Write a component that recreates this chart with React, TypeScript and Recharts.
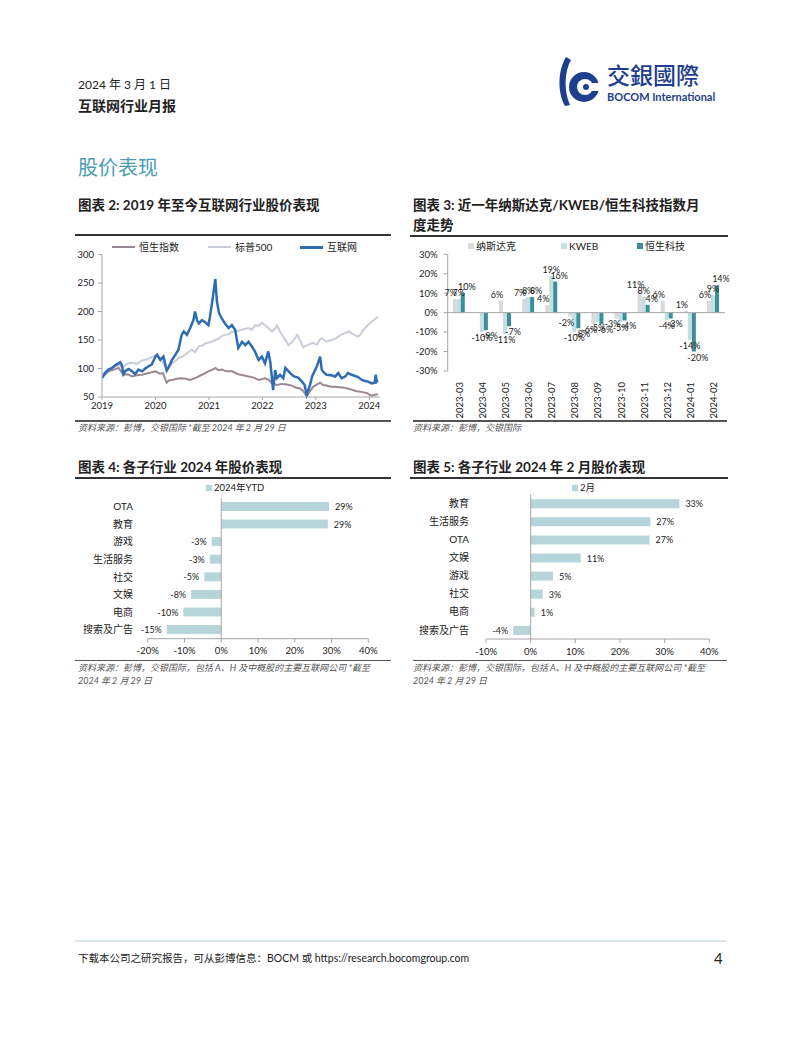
import React from "react";
import {
  LineChart,
  Line,
  BarChart,
  Bar,
  XAxis,
  YAxis,
  ReferenceLine,
  LabelList,
} from "recharts";

const FONT = 'Lato, "Noto Sans CJK SC", sans-serif';
const INK = "#222";
const AXIS = "#a6a6a6";

// 图表 2: index levels, [year, value]
const yearTicks = [2019, 2020, 2021, 2022, 2023, 2024];
const levelTicks = [50, 100, 150, 200, 250, 300];

const hsiPoints = [
  [2019.0, 86], [2019.06, 90], [2019.12, 95], [2019.22, 98], [2019.31, 101], [2019.4, 89],
  [2019.48, 90], [2019.56, 86], [2019.65, 88], [2019.75, 89], [2019.87, 92], [2020.0, 95],
  [2020.08, 91], [2020.14, 92], [2020.21, 75], [2020.25, 79], [2020.31, 80], [2020.4, 82],
  [2020.49, 83], [2020.57, 82], [2020.65, 80], [2020.76, 84], [2020.87, 89], [2020.99, 95],
  [2021.07, 98], [2021.12, 101], [2021.18, 97], [2021.24, 98], [2021.33, 95], [2021.43, 95],
  [2021.55, 90], [2021.64, 88], [2021.74, 86], [2021.84, 84], [2021.93, 80], [2022.05, 83],
  [2022.12, 80], [2022.18, 74], [2022.27, 71], [2022.36, 73], [2022.46, 72], [2022.55, 70],
  [2022.61, 67], [2022.7, 65], [2022.76, 61], [2022.83, 51], [2022.89, 60], [2022.95, 68],
  [2023.04, 73], [2023.08, 75], [2023.14, 71], [2023.2, 70], [2023.28, 68], [2023.35, 68],
  [2023.45, 67], [2023.55, 66], [2023.62, 64], [2023.67, 63], [2023.76, 60], [2023.85, 59],
  [2023.95, 57], [2024.04, 52], [2024.1, 54], [2024.16, 55],
];

const spxPoints = [
  [2019.0, 89], [2019.06, 94], [2019.12, 98], [2019.22, 102], [2019.31, 106], [2019.4, 103],
  [2019.48, 109], [2019.56, 110], [2019.65, 108], [2019.75, 114], [2019.84, 116], [2019.93, 120],
  [2020.03, 124], [2020.12, 116], [2020.17, 105], [2020.21, 95], [2020.26, 103], [2020.31, 109],
  [2020.37, 113], [2020.43, 118], [2020.5, 121], [2020.55, 124], [2020.62, 129], [2020.68, 133],
  [2020.74, 129], [2020.81, 139], [2020.87, 140], [2020.93, 144], [2021.05, 147], [2021.12, 150],
  [2021.19, 153], [2021.24, 157], [2021.3, 159], [2021.37, 160], [2021.43, 165], [2021.49, 164],
  [2021.55, 166], [2021.64, 169], [2021.74, 171], [2021.8, 168], [2021.87, 176], [2021.93, 175],
  [2021.99, 180], [2022.05, 176], [2022.11, 171], [2022.18, 165], [2022.24, 170], [2022.27, 176],
  [2022.33, 165], [2022.37, 159], [2022.43, 150], [2022.49, 141], [2022.55, 146], [2022.61, 153],
  [2022.65, 159], [2022.71, 148], [2022.77, 137], [2022.81, 140], [2022.85, 141], [2022.93, 145],
  [2023.02, 142], [2023.07, 150], [2023.11, 153], [2023.2, 147], [2023.29, 150], [2023.36, 152],
  [2023.42, 156], [2023.48, 160], [2023.54, 162], [2023.62, 165], [2023.7, 160], [2023.79, 156],
  [2023.84, 160], [2023.88, 167], [2023.96, 175], [2024.04, 182], [2024.1, 186], [2024.16, 191],
];

const internetPoints = [
  [2019.0, 83], [2019.06, 92], [2019.12, 98], [2019.19, 101], [2019.25, 106], [2019.31, 109],
  [2019.34, 111], [2019.37, 106], [2019.4, 90], [2019.44, 96], [2019.5, 99], [2019.56, 95],
  [2019.62, 90], [2019.68, 98], [2019.75, 95], [2019.81, 100], [2019.87, 104], [2019.93, 107],
  [2020.0, 121], [2020.03, 124], [2020.09, 115], [2020.15, 121], [2020.21, 97], [2020.25, 103],
  [2020.31, 115], [2020.37, 124], [2020.43, 133], [2020.49, 159], [2020.53, 165], [2020.59, 159],
  [2020.65, 171], [2020.71, 185], [2020.74, 200], [2020.78, 184], [2020.81, 179], [2020.87, 185],
  [2020.93, 181], [2020.99, 176], [2021.02, 191], [2021.07, 223], [2021.12, 257], [2021.15, 217],
  [2021.19, 197], [2021.24, 188], [2021.3, 179], [2021.37, 171], [2021.43, 176], [2021.49, 168],
  [2021.55, 136], [2021.62, 147], [2021.68, 141], [2021.74, 147], [2021.8, 139], [2021.86, 130],
  [2021.93, 115], [2021.99, 121], [2022.05, 109], [2022.11, 130], [2022.15, 110], [2022.2, 62],
  [2022.24, 97], [2022.27, 83], [2022.33, 89], [2022.39, 83], [2022.43, 101], [2022.52, 92],
  [2022.59, 86], [2022.67, 84], [2022.74, 77], [2022.79, 71], [2022.83, 54], [2022.89, 71],
  [2022.93, 86], [2023.02, 104], [2023.08, 121], [2023.11, 98], [2023.14, 94], [2023.2, 89],
  [2023.29, 88], [2023.36, 86], [2023.42, 92], [2023.48, 83], [2023.55, 86], [2023.6, 92],
  [2023.67, 89], [2023.79, 85], [2023.86, 80], [2023.92, 78], [2023.98, 77], [2024.04, 74],
  [2024.1, 75], [2024.12, 89], [2024.14, 77], [2024.16, 79],
];

// 图表 3: monthly returns (%)
const months = [
  "2023-03", "2023-04", "2023-05", "2023-06", "2023-07", "2023-08",
  "2023-09", "2023-10", "2023-11", "2023-12", "2024-01", "2024-02",
];
const nasdaqReturns = [7, 0, 6, 7, 4, -2, -6, -3, 11, 6, 1, 6];
const kwebReturns = [7, -10, -11, 8, 19, -10, -5, -5, 8, -4, -14, 9];
const hstechReturns = [10, -9, -7, 8, 16, -8, -6, -4, 4, -3, -20, 14];
const returnTicks = [-30, -20, -10, 0, 10, 20, 30];

// 图表 4: 2024 YTD by sub-sector (%)
const ytdSectors = ["OTA", "教育", "游戏", "生活服务", "社交", "文娱", "电商", "搜索及广告"];
const ytdValues = [29.3, 29.0, -2.6, -3.1, -4.6, -8.2, -10.3, -14.8];
const ytdTicks = [-20, -10, 0, 10, 20, 30, 40];

// 图表 5: February 2024 by sub-sector (%)
const febSectors = ["教育", "生活服务", "OTA", "文娱", "游戏", "社交", "电商", "搜索及广告"];
const febValues = [33.3, 26.8, 26.6, 11.2, 5.0, 2.7, 0.9, -3.9];
const febTicks = [-10, 0, 10, 20, 30, 40];

const HSI_C = "#9c8794";
const SPX_C = "#c9cdd7";
const NET_C = "#2e6db4";
const NASDAQ_C = "#d9d9d9";
const KWEB_C = "#c3dfe6";
const HSTECH_C = "#3c8f99";
const SECTOR_C = "#b5d5db";

const toRows = (pts: number[][]) => pts.map(([t, v]) => ({ t, v }));
const pct = (v: number) => `${v}%`;

const monthRows = months.map((m, i) => ({
  m,
  nasdaq: nasdaqReturns[i],
  kweb: kwebReturns[i],
  hstech: hstechReturns[i],
}));
const ytdRows = ytdSectors.map((name, i) => ({ name, v: ytdValues[i] }));
const febRows = febSectors.map((name, i) => ({ name, v: febValues[i] }));

// column label, nudged sideways a little per series like the Excel original
function columnLabel(shift: number) {
  return function ColumnLabel(props: any) {
    const { x, y, width, height, value } = props;
    const top = Math.min(y, y + height);
    const bottom = Math.max(y, y + height);
    const cx = x + width / 2 + shift;
    return (
      <text
        x={cx}
        y={value >= 0 ? top - 3 : bottom + 9}
        textAnchor="middle"
        fontSize={9}
        fill={INK}
        fontFamily={FONT}
      >
        {`${value}%`}
      </text>
    );
  };
}
const NasdaqLabel = columnLabel(-4);
const KwebLabel = columnLabel(0);
const HstechLabel = columnLabel(4);

function RowLabel(props: any) {
  const { x, y, width, height, value } = props;
  const left = Math.min(x, x + width);
  const right = Math.max(x, x + width);
  const pos = value >= 0;
  return (
    <text
      x={pos ? right + 6 : left - 5}
      y={y + height / 2}
      dominantBaseline="central"
      textAnchor={pos ? "start" : "end"}
      fontSize={9}
      fill={INK}
      fontFamily={FONT}
    >
      {`${Math.round(value)}%`}
    </text>
  );
}

function MonthTick(props: any) {
  const { x, y, payload } = props;
  const py = y + 3;
  return (
    <text
      x={x}
      y={py}
      transform={`rotate(-90 ${x} ${py})`}
      textAnchor="end"
      dominantBaseline="central"
      fontSize={9.5}
      fill={INK}
      fontFamily={FONT}
    >
      {payload.value}
    </text>
  );
}

function Txt({ x, y, size, children, style }: any) {
  return (
    <div
      style={{
        position: "absolute",
        left: x,
        top: y - 10,
        height: 20,
        lineHeight: "20px",
        fontSize: size,
        whiteSpace: "nowrap",
        color: INK,
        ...style,
      }}
    >
      {children}
    </div>
  );
}

function Rule({ x, y, w, h, color }: any) {
  return (
    <div
      style={{ position: "absolute", left: x, top: y, width: w, height: h, background: color }}
    />
  );
}

function LineKey({ x, y, color, label, width }: any) {
  return (
    <>
      <Rule x={x} y={y - 1} w={23} h={width} color={color} />
      <Txt x={x + 27} y={y} size={10}>{label}</Txt>
    </>
  );
}

function BoxKey({ x, y, color, label, size = 10 }: any) {
  return (
    <>
      <Rule x={x} y={y - 3} w={6} h={6} color={color} />
      <Txt x={x + 8} y={y} size={size}>{label}</Txt>
    </>
  );
}

function Logo() {
  return (
    <svg
      width={170}
      height={56}
      style={{ position: "absolute", left: 556, top: 54 }}
    >
      <path d="M10,3 C2,16 1,38 9,52 L14,51 C8,38 8,18 15,6 Z" fill="#1d3f8e" />
      <circle cx={28} cy={33} r={15} fill="#1d3f8e" />
      <circle cx={29} cy={33} r={8} fill="#fff" />
      <rect x={29} y={29} width={16} height={8} fill="#fff" />
      <circle cx={30} cy={33} r={3} fill="#1d3f8e" />
      <text x={51} y={30} fontSize={23} fill="#1d3f8e" fontFamily={FONT} fontWeight={500}>
        交銀國際
      </text>
      <text x={51} y={47} fontSize={11} fill="#1d3f8e" fontFamily={FONT} fontWeight={700}>
        BOCOM International
      </text>
    </svg>
  );
}

const titleStyle = { fontWeight: 700 };
const sourceStyle = { fontStyle: "italic", color: "#555" };

export default function App() {
  return (
    <div
      style={{
        position: "absolute",
        left: 0,
        top: 0,
        width: 802,
        height: 1037,
        background: "#fff",
        fontFamily: FONT,
        color: INK,
        overflow: "hidden",
      }}
    >
      {/* header */}
      <Txt x={78} y={85} size={12}>2024 年 3 月 1 日</Txt>
      <Txt x={78} y={106} size={14} style={titleStyle}>互联网行业月报</Txt>
      <Logo />
      <Txt x={78} y={167} size={20} style={{ color: "#4a9cb2" }}>股价表现</Txt>

      {/* chart 2 */}
      <Txt x={78} y={205} size={13.5} style={titleStyle}>
        图表 2: 2019 年至今互联网行业股价表现
      </Txt>
      <Rule x={75} y={234} w={316} h={2} color="#333" />
      <LineKey x={112} y={247} color={HSI_C} label="恒生指数" width={2} />
      <LineKey x={208} y={247} color={SPX_C} label="标普500" width={2} />
      <LineKey x={300} y={247} color={NET_C} label="互联网" width={3} />
      <div style={{ position: "absolute", left: 60, top: 250 }}>
        <LineChart
          width={330}
          height={170}
          margin={{ top: 4.5, right: 10, bottom: 3, left: 0 }}
        >
          <XAxis
            type="number"
            dataKey="t"
            domain={[2019, 2024.2]}
            ticks={yearTicks}
            allowDataOverflow
            height={20}
            tickSize={3}
            tickMargin={2}
            axisLine={{ stroke: AXIS }}
            tickLine={{ stroke: AXIS }}
            tick={{ fontSize: 9.5, fill: INK, fontFamily: FONT }}
          />
          <YAxis
            type="number"
            domain={[50, 300]}
            ticks={levelTicks}
            width={42}
            tickSize={4}
            tickMargin={4}
            axisLine={{ stroke: AXIS }}
            tickLine={{ stroke: AXIS }}
            tick={{ fontSize: 9.5, fill: INK, fontFamily: FONT }}
          />
          <Line
            data={toRows(hsiPoints)}
            dataKey="v"
            stroke={HSI_C}
            strokeWidth={2}
            dot={false}
            isAnimationActive={false}
          />
          <Line
            data={toRows(spxPoints)}
            dataKey="v"
            stroke={SPX_C}
            strokeWidth={2}
            dot={false}
            isAnimationActive={false}
          />
          <Line
            data={toRows(internetPoints)}
            dataKey="v"
            stroke={NET_C}
            strokeWidth={2.5}
            dot={false}
            isAnimationActive={false}
          />
        </LineChart>
      </div>
      <Rule x={75} y={420} w={316} h={1.5} color="#555" />
      <Txt x={78} y={428} size={9} style={sourceStyle}>
        资料来源：彭博，交银国际 *截至 2024 年 2 月 29 日
      </Txt>

      {/* chart 3 */}
      <Txt x={413} y={205} size={13.5} style={titleStyle}>
        图表 3: 近一年纳斯达克/KWEB/恒生科技指数月
      </Txt>
      <Txt x={413} y={225} size={13.5} style={titleStyle}>度走势</Txt>
      <Rule x={410} y={235} w={318} h={2} color="#333" />
      <BoxKey x={468} y={246} color={NASDAQ_C} label="纳斯达克" />
      <BoxKey x={561} y={246} color={KWEB_C} label="KWEB" />
      <BoxKey x={637} y={246} color={HSTECH_C} label="恒生科技" />
      <div style={{ position: "absolute", left: 400, top: 250 }}>
        <BarChart
          width={335}
          height={180}
          data={monthRows}
          margin={{ top: 4.3, right: 10, bottom: 4, left: 0 }}
          barCategoryGap="22%"
          barGap={0}
        >
          <XAxis
            dataKey="m"
            height={55}
            interval={0}
            axisLine={false}
            tickLine={false}
            tickSize={6}
            tickMargin={2}
            tick={<MonthTick />}
          />
          <YAxis
            domain={[-30, 30]}
            ticks={returnTicks}
            tickFormatter={pct}
            width={47.7}
            tickSize={4}
            tickMargin={6}
            axisLine={{ stroke: AXIS }}
            tickLine={{ stroke: AXIS }}
            tick={{ fontSize: 9.5, fill: INK, fontFamily: FONT }}
          />
          <ReferenceLine y={0} stroke={AXIS} />
          <Bar dataKey="nasdaq" fill={NASDAQ_C} isAnimationActive={false}>
            <LabelList dataKey="nasdaq" content={<NasdaqLabel />} />
          </Bar>
          <Bar dataKey="kweb" fill={KWEB_C} isAnimationActive={false}>
            <LabelList dataKey="kweb" content={<KwebLabel />} />
          </Bar>
          <Bar dataKey="hstech" fill={HSTECH_C} isAnimationActive={false}>
            <LabelList dataKey="hstech" content={<HstechLabel />} />
          </Bar>
        </BarChart>
      </div>
      <Rule x={413} y={420} w={314} h={1.5} color="#555" />
      <Txt x={413} y={428} size={9} style={sourceStyle}>资料来源：彭博，交银国际</Txt>

      {/* chart 4 */}
      <Txt x={78} y={467} size={13.5} style={titleStyle}>
        图表 4: 各子行业 2024 年股价表现
      </Txt>
      <Rule x={75} y={477} w={316} h={2} color="#333" />
      <BoxKey x={206} y={488} color={SECTOR_C} label="2024年YTD" size={9.5} />
      <div style={{ position: "absolute", left: 70, top: 490 }}>
        <BarChart
          layout="vertical"
          width={320}
          height={170}
          data={ytdRows}
          margin={{ top: 7.9, right: 21.7, bottom: 1.3, left: 0 }}
          barSize={9}
        >
          <XAxis
            type="number"
            domain={[-20, 40]}
            ticks={ytdTicks}
            tickFormatter={pct}
            height={20}
            tickSize={4}
            tickMargin={5}
            axisLine={{ stroke: AXIS }}
            tickLine={{ stroke: AXIS }}
            tick={{ fontSize: 9.5, fill: INK, fontFamily: FONT }}
          />
          <YAxis
            type="category"
            dataKey="name"
            width={77.7}
            interval={0}
            axisLine={false}
            tickLine={false}
            tickSize={0}
            tickMargin={14.7}
            tick={{ fontSize: 10, fill: INK, fontFamily: FONT }}
          />
          <ReferenceLine x={0} stroke={AXIS} />
          <Bar dataKey="v" fill={SECTOR_C} isAnimationActive={false}>
            <LabelList dataKey="v" content={<RowLabel />} />
          </Bar>
        </BarChart>
      </div>
      <Rule x={75} y={660} w={316} h={1} color="#555" />
      <Txt x={78} y={668} size={9} style={sourceStyle}>
        资料来源：彭博，交银国际，包括 A、H 及中概股的主要互联网公司 *截至
      </Txt>
      <Txt x={78} y={681} size={9} style={sourceStyle}>2024 年 2 月 29 日</Txt>

      {/* chart 5 */}
      <Txt x={413} y={467} size={13.5} style={titleStyle}>
        图表 5: 各子行业 2024 年 2 月股价表现
      </Txt>
      <Rule x={410} y={477} w={318} h={2} color="#333" />
      <BoxKey x={572} y={488} color={SECTOR_C} label="2月" size={9.5} />
      <div style={{ position: "absolute", left: 400, top: 490 }}>
        <BarChart
          layout="vertical"
          width={330}
          height={170}
          data={febRows}
          margin={{ top: 4.25, right: 20.7, bottom: 1, left: 0 }}
          barSize={9}
        >
          <XAxis
            type="number"
            domain={[-10, 40]}
            ticks={febTicks}
            tickFormatter={pct}
            height={20}
            tickSize={4}
            tickMargin={5}
            axisLine={{ stroke: AXIS }}
            tickLine={{ stroke: AXIS }}
            tick={{ fontSize: 9.5, fill: INK, fontFamily: FONT }}
          />
          <YAxis
            type="category"
            dataKey="name"
            width={86}
            interval={0}
            axisLine={false}
            tickLine={false}
            tickSize={0}
            tickMargin={17}
            tick={{ fontSize: 10, fill: INK, fontFamily: FONT }}
          />
          <ReferenceLine x={0} stroke={AXIS} />
          <Bar dataKey="v" fill={SECTOR_C} isAnimationActive={false}>
            <LabelList dataKey="v" content={<RowLabel />} />
          </Bar>
        </BarChart>
      </div>
      <Rule x={413} y={660} w={314} h={1} color="#555" />
      <Txt x={413} y={668} size={9} style={sourceStyle}>
        资料来源：彭博，交银国际，包括 A、H 及中概股的主要互联网公司 *截至
      </Txt>
      <Txt x={413} y={681} size={9} style={sourceStyle}>2024 年 2 月 29 日</Txt>

      {/* footer */}
      <Rule x={75} y={940} w={652} h={2} color="#dce6ea" />
      <Txt x={78} y={958} size={10.5}>
        下载本公司之研究报告，可从彭博信息：BOCM 或 https://research.bocomgroup.com
      </Txt>
      <Txt x={714} y={958} size={15}>4</Txt>
    </div>
  );
}
